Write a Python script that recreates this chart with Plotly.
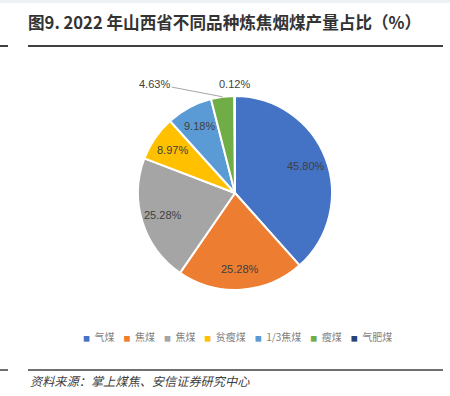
import math
import plotly.graph_objects as go

categories = ["气煤", "焦煤", "焦煤", "贫瘦煤", "1/3焦煤", "瘦煤", "气肥煤"]
values = [45.80, 25.28, 25.28, 8.97, 9.18, 4.63, 0.12]
colors = ["#4472C4", "#ED7D31", "#A5A5A5", "#FFC000", "#5B9BD5", "#70AD47", "#264478"]

FONT = "Noto Sans CJK SC"
W, H = 450, 396
CX, CY, R = 235, 193, 97   # pie centre / radius in pixels
LABEL_FONT = dict(family="Liberation Sans, Arial", size=11, color="#404040")

fig = go.Figure(go.Pie(
    labels=[f"s{i}" for i in range(len(values))],
    values=values,
    textinfo="none",
    sort=False,
    direction="clockwise",
    rotation=0,
    marker=dict(colors=colors, line=dict(color="white", width=2)),
    domain=dict(x=[(CX - R) / W, (CX + R) / W], y=[1 - (CY + R) / H, 1 - (CY - R) / H]),
    hovertext=categories,
    hoverinfo="text+value",
    showlegend=False,
))

annotations = []
total = sum(values)
cum = 0.0
for i, v in enumerate(values):
    mid = 2 * math.pi * (cum + v / 2) / total
    cum += v
    sx, sy = math.sin(mid), -math.cos(mid)
    txt = f"{v:.2f}%"
    if i < 5:
        px, py = CX + 0.78 * R * sx, CY + 0.78 * R * sy
        annotations.append(dict(text=txt, x=px / W, y=1 - py / H, xref="paper", yref="paper",
                                showarrow=False, font=LABEL_FONT, xanchor="center", yanchor="middle"))
    elif i == 5:
        tx, ty = CX + R * sx, CY + R * sy
        annotations.append(dict(text=txt, x=tx / W, y=1 - ty / H, xref="paper", yref="paper",
                                showarrow=True, arrowhead=0, arrowwidth=1, arrowcolor="#A6A6A6",
                                ax=-68, ay=-13, font=LABEL_FONT, standoff=0))
    else:
        px, py = CX + (R + 12) * sx, CY + (R + 12) * sy
        annotations.append(dict(text=txt, x=px / W, y=1 - py / H, xref="paper", yref="paper",
                                showarrow=False, font=LABEL_FONT, xanchor="center", yanchor="middle"))

# legend line built from categories / colours
sep = "\u00a0" * 4
legend_parts = []
for c, col in zip(categories, colors):
    legend_parts.append(f"<span style='color:{col};font-size:7px'>■</span>\u00a0\u00a0{c}")
annotations.append(dict(text=sep.join(legend_parts), x=238 / W, y=1 - 336 / H,
                        xref="paper", yref="paper", showarrow=False,
                        xanchor="center", yanchor="middle",
                        font=dict(family=FONT, size=10, color="#7F7F7F")))

annotations.append(dict(text="<b>图9. 2022 年山西省不同品种炼焦烟煤产量占比（%）</b>",
                        x=26 / W, y=1 - 22 / H, xref="paper", yref="paper",
                        xanchor="left", yanchor="middle", showarrow=False,
                        font=dict(family=FONT, size=16.6, color="#333333")))
annotations.append(dict(text="<i>资料来源：掌上煤焦、安信证券研究中心</i>",
                        x=28 / W, y=1 - 381 / H, xref="paper", yref="paper",
                        xanchor="left", yanchor="middle", showarrow=False,
                        font=dict(family=FONT, size=12.2, color="#404040")))

fig.update_layout(
    width=W, height=H,
    margin=dict(l=0, r=0, t=0, b=0),
    paper_bgcolor="white",
    plot_bgcolor="white",
    showlegend=False,
    annotations=annotations,
    shapes=[
        dict(type="rect", xref="paper", yref="paper", x0=0, x1=1, y0=1 - 3 / H, y1=1,
             line=dict(width=0), fillcolor="#EEF1F5"),
        dict(type="line", xref="paper", yref="paper", x0=28 / W, x1=443 / W,
             y0=1 - 46 / H, y1=1 - 46 / H, line=dict(color="#404040", width=2)),
        dict(type="line", xref="paper", yref="paper", x0=0, x1=8 / W,
             y0=1 - 46 / H, y1=1 - 46 / H, line=dict(color="#404040", width=2)),
        dict(type="line", xref="paper", yref="paper", x0=28 / W, x1=443 / W,
             y0=1 - 370 / H, y1=1 - 370 / H, line=dict(color="#404040", width=1.5)),
        dict(type="line", xref="paper", yref="paper", x0=0, x1=8 / W,
             y0=1 - 370 / H, y1=1 - 370 / H, line=dict(color="#404040", width=1.5)),
    ],
)

fig.write_html("out.html", config={"displayModeBar": False},
               post_script="document.body.style.margin='0';")
